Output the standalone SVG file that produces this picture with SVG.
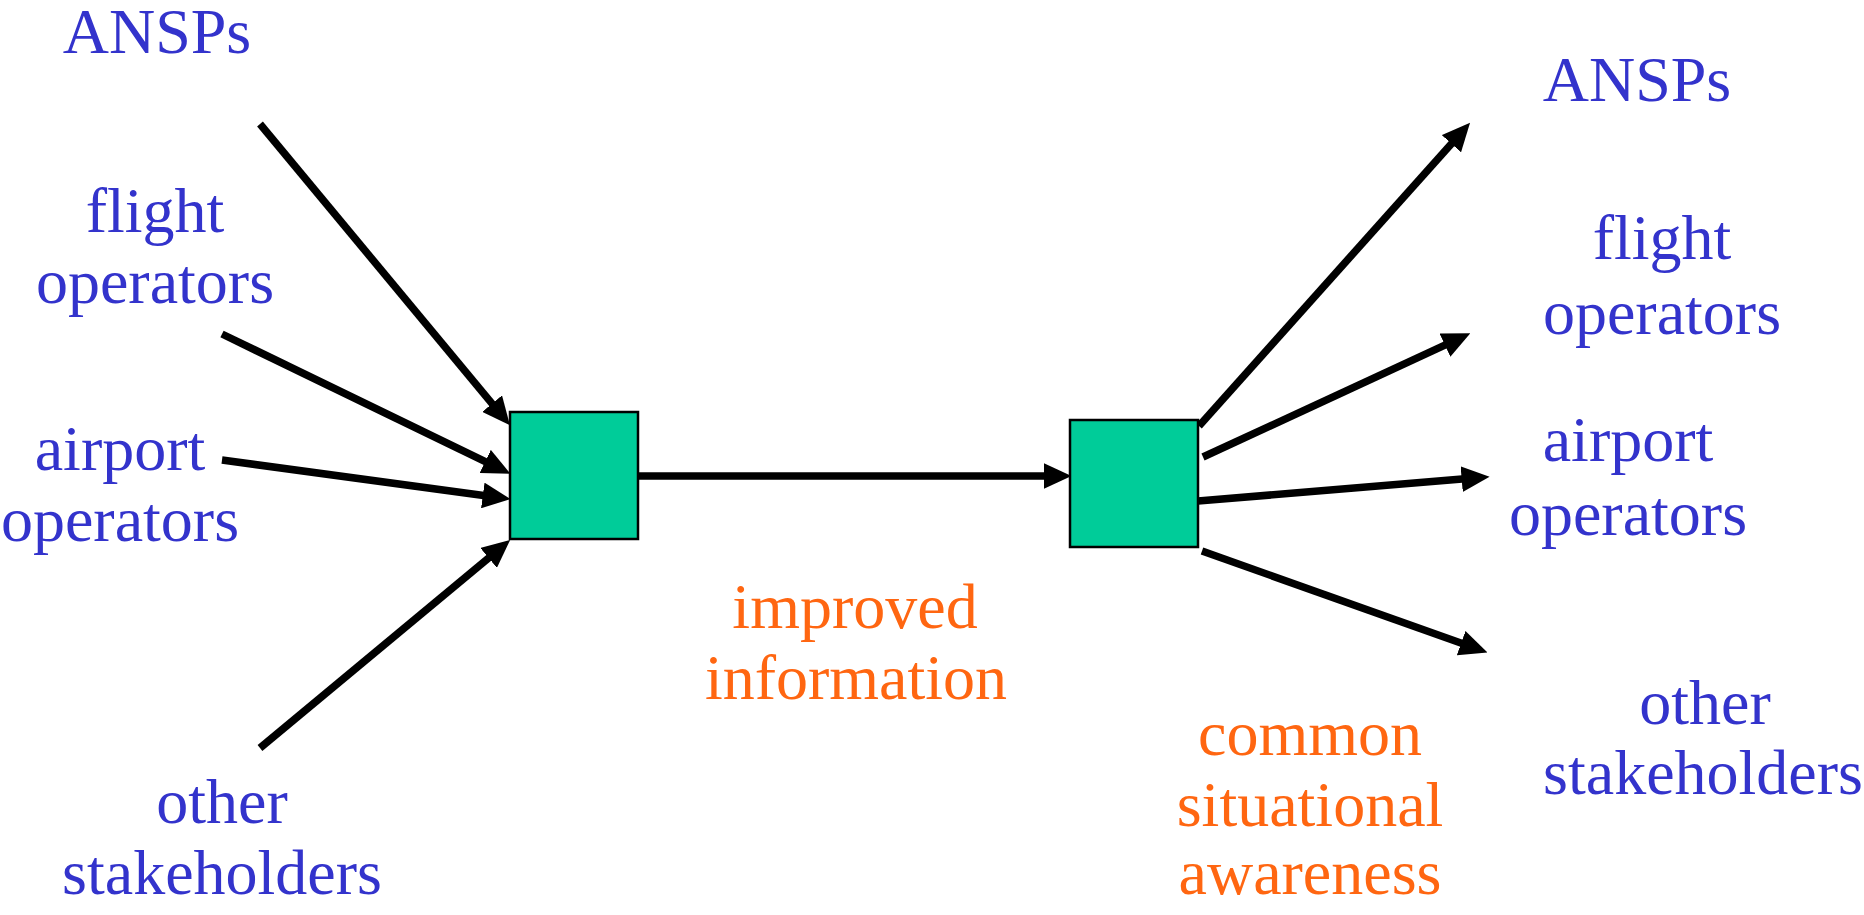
<svg xmlns="http://www.w3.org/2000/svg" width="1864" height="915" viewBox="0 0 1864 915">
<style>
.lbl{font-family:"Liberation Serif","Times New Roman",serif;font-size:64px;text-anchor:middle}
.b{fill:#3333CC}
.o{fill:#FF6611}
.box{fill:#00CC99;stroke:#000;stroke-width:2.5}
.ln{stroke:#000;stroke-width:7.5;fill:none;marker-end:url(#ah)}
</style>
<defs>
<marker id="ah" markerUnits="userSpaceOnUse" markerWidth="28" markerHeight="26" viewBox="0 0 26 24" refX="6" refY="12" orient="auto">
<path d="M0,0 L26,12 L0,24 z" fill="#000"/>
</marker>
</defs>
<rect width="1864" height="915" fill="#fff"/>
<g id="connectors">
<line class="ln" x1="260" y1="124" x2="496.2" y2="408.6"/>
<line class="ln" x1="222" y1="334" x2="491.0" y2="464.3"/>
<line class="ln" x1="222" y1="460" x2="489.2" y2="496.3"/>
<line class="ln" x1="260" y1="748" x2="493.6" y2="553.8"/>
<line class="ln" x1="638" y1="476" x2="1050" y2="476"/>
<line class="ln" x1="1199" y1="426" x2="1455.7" y2="138.9"/>
<line class="ln" x1="1203" y1="457" x2="1450.8" y2="342.4"/>
<line class="ln" x1="1198" y1="501" x2="1468.1" y2="478.6"/>
<line class="ln" x1="1202" y1="551" x2="1467.2" y2="645.3"/>
</g>
<g id="box1"><rect class="box" x="510" y="412" width="128" height="127"/></g>
<g id="box2"><rect class="box" x="1070" y="420" width="128" height="127"/></g>
<g id="src-ansps"><text class="lbl b" x="157" y="53">ANSPs</text></g>
<g id="src-flight"><text class="lbl b" x="155" y="232">flight</text><text class="lbl b" x="155" y="303">operators</text></g>
<g id="src-airport"><text class="lbl b" x="120" y="470">airport</text><text class="lbl b" x="120" y="541">operators</text></g>
<g id="src-other"><text class="lbl b" x="222" y="823">other</text><text class="lbl b" x="222" y="894">stakeholders</text></g>
<g id="lbl-improved"><text class="lbl o" x="855" y="628">improved</text><text class="lbl o" x="856" y="699">information</text></g>
<g id="lbl-common"><text class="lbl o" x="1310" y="755">common</text><text class="lbl o" x="1310" y="826">situational</text><text class="lbl o" x="1310" y="894">awareness</text></g>
<g id="dst-ansps"><text class="lbl b" x="1637" y="101">ANSPs</text></g>
<g id="dst-flight"><text class="lbl b" x="1662" y="259">flight</text><text class="lbl b" x="1662" y="334">operators</text></g>
<g id="dst-airport"><text class="lbl b" x="1628" y="461">airport</text><text class="lbl b" x="1628" y="535">operators</text></g>
<g id="dst-other"><text class="lbl b" x="1705" y="724">other</text><text class="lbl b" x="1703" y="794">stakeholders</text></g>
</svg>
